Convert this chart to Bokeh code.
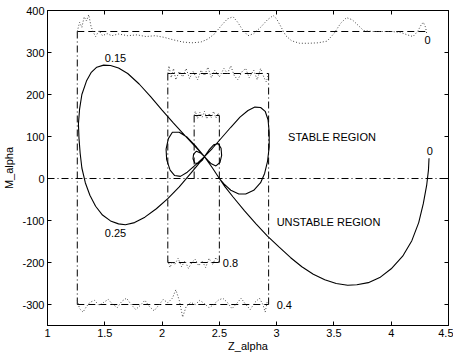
from bokeh.plotting import figure
from bokeh.models import Span, LinearAxis, FixedTicker, Range1d, ColumnDataSource
from bokeh.core.properties import value
from bokeh.embed import file_html
from bokeh.resources import INLINE

# ---------------- data ----------------
x_ticks = [1, 1.5, 2, 2.5, 3, 3.5, 4, 4.5]
x_tick_labels = ["1", "1.5", "2", "2.5", "3", "3.5", "4", "4.5"]
y_ticks = [-300, -200, -100, 0, 100, 200, 300, 400]
y_tick_labels = ["-300", "-200", "-100", "0", "100", "200", "300", "400"]

# stability boundary curve (Z_alpha, M_alpha)
curve_z = [4.33, 4.325, 4.31, 4.28, 4.24, 4.18, 4.10, 4.00, 3.90, 3.80, 3.70, 3.62,
           3.52, 3.42, 3.32, 3.22, 3.12, 3.02, 2.92, 2.82, 2.72, 2.62, 2.55, 2.50,
           2.44, 2.37,
           2.30, 2.20, 2.10, 2.00, 1.90, 1.80, 1.70, 1.62, 1.55, 1.49, 1.43, 1.38,
           1.34, 1.30, 1.28, 1.27, 1.275, 1.285, 1.30, 1.33, 1.37, 1.42, 1.48, 1.55,
           1.62, 1.68, 1.76, 1.85, 1.95, 2.05, 2.15, 2.25, 2.31, 2.37,
           2.44, 2.52, 2.60, 2.68, 2.75, 2.81, 2.86, 2.90, 2.925, 2.935, 2.935,
           2.92, 2.895, 2.86, 2.80, 2.73, 2.67, 2.60, 2.54, 2.50, 2.44, 2.37,
           2.30, 2.22, 2.15, 2.09, 2.055, 2.035, 2.04, 2.07, 2.11, 2.16, 2.22,
           2.29, 2.37,
           2.41, 2.45, 2.49, 2.515, 2.52, 2.505, 2.47, 2.43, 2.40, 2.37,
           2.34, 2.30, 2.275, 2.27, 2.285, 2.32, 2.35, 2.37]
curve_m = [48, 20, -15, -60, -105, -148, -185, -215, -236, -248, -253, -254,
           -250, -241, -228, -210, -188, -163, -137, -108, -77, -44, -20, 0,
           25, 52,
           73, 102, 132, 163, 195, 225, 250, 263, 269, 270, 265, 252,
           232, 200, 165, 130, 95, 60, 25, -10, -40, -66, -87, -101,
           -108, -110, -105, -92, -72, -48, -20, 12, 32, 52,
           72, 97, 122, 146, 162, 170, 169, 160, 140, 110, 75,
           40, 12, -10, -28, -37, -37, -28, -13, 0, 25, 52,
           75, 98, 110, 110, 95, 70, 45, 20, 7, 5, 15,
           32, 52,
           68, 80, 83, 72, 55, 38, 30, 35, 43, 52,
           60, 65, 58, 47, 37, 36, 43, 52]

# region boundaries: dashed horizontals and dash-dot verticals
h_z0 = [1.26, 2.05, 2.28, 2.05, 1.26]
h_z1 = [4.31, 2.93, 2.50, 2.50, 2.93]
h_m = [350, 250, 150, -200, -300]
v_z = [1.26, 2.05, 2.93, 2.50, 2.28]
v_m0 = [-300, -200, -300, -200, 0]
v_m1 = [350, 250, 250, 150, 150]

# dotted traces along the horizontal boundaries
top_wig_z = [1.26, 1.28, 1.30, 1.32, 1.34, 1.36, 1.38, 1.40, 1.42, 1.45, 1.48, 1.52,
             1.56, 1.62, 1.70, 1.78, 1.86, 1.94, 2.02, 2.10, 2.18, 2.26, 2.34, 2.40,
             2.46, 2.52, 2.57, 2.62, 2.66, 2.70, 2.75, 2.80, 2.86, 2.92, 2.97, 3.00,
             3.04, 3.08, 3.13, 3.20, 3.28, 3.36, 3.44, 3.50, 3.56, 3.61, 3.66, 3.71,
             3.76, 3.84, 3.92, 4.00, 4.08, 4.14, 4.19, 4.23, 4.26, 4.28, 4.30, 4.31]
top_wig_m = [350, 372, 360, 385, 375, 390, 362, 348, 338, 352, 340, 345,
             340, 344, 340, 342, 338, 340, 336, 330, 325, 323, 325, 332,
             345, 365, 380, 385, 372, 355, 340, 345, 360, 378, 388, 380,
             360, 340, 328, 322, 322, 323, 327, 345, 370, 383, 378, 365,
             352, 350, 350, 350, 348, 342, 338, 350, 365, 372, 360, 345]
mid_wig_z = [2.05, 2.06, 2.08, 2.10, 2.12, 2.15, 2.18, 2.21, 2.24, 2.27, 2.31, 2.34,
             2.37, 2.40, 2.43, 2.46, 2.50, 2.54, 2.57, 2.60, 2.63, 2.66, 2.70, 2.73,
             2.76, 2.80, 2.83, 2.86, 2.89, 2.91, 2.93]
mid_wig_m = [250, 268, 240, 262, 235, 255, 242, 262, 238, 255, 235, 258,
             245, 265, 240, 258, 242, 262, 250, 268, 245, 235, 255, 262,
             240, 258, 235, 262, 240, 230, 250]
small_wig_z = [2.28, 2.29, 2.31, 2.33, 2.35, 2.37, 2.39, 2.41, 2.43, 2.45, 2.47, 2.49, 2.50]
small_wig_m = [150, 160, 143, 158, 146, 160, 142, 155, 145, 160, 144, 156, 148]
b8_wig_z = [2.05, 2.07, 2.09, 2.11, 2.14, 2.17, 2.20, 2.23, 2.26, 2.29, 2.32, 2.35,
            2.38, 2.41, 2.44, 2.47, 2.50]
b8_wig_m = [-195, -212, -198, -205, -190, -210, -196, -214, -200, -192, -208, -196,
            -212, -190, -205, -188, -200]
b4_wig_z = [1.26, 1.28, 1.31, 1.34, 1.37, 1.41, 1.45, 1.49, 1.53, 1.57, 1.61, 1.65,
            1.69, 1.73, 1.77, 1.81, 1.85, 1.89, 1.93, 1.97, 2.01, 2.05, 2.09, 2.12,
            2.15, 2.18, 2.21, 2.25, 2.29, 2.33, 2.37, 2.41, 2.45, 2.49, 2.53, 2.57,
            2.61, 2.65, 2.69, 2.73, 2.77, 2.81, 2.85, 2.88, 2.90, 2.92]
b4_wig_m = [-290, -310, -318, -305, -295, -290, -302, -295, -288, -300, -307, -292,
            -285, -300, -312, -302, -290, -305, -315, -302, -288, -296, -285, -265,
            -290, -330, -305, -295, -300, -290, -298, -308, -300, -290, -285, -295,
            -310, -298, -285, -300, -312, -295, -285, -300, -318, -290]

# annotations
lab_text = ["0", "0", "0.15", "0.25", "0.4", "0.8", "STABLE REGION", "UNSTABLE REGION"]
lab_z = [4.29, 4.31, 1.50, 1.50, 3.00, 2.53, 3.10, 3.00]
lab_m = [329, 65, 288, -130, -300, -200, 99, -103]

FONT = "Liberation Sans"

# ---------------- figure ----------------
p = figure(width=453, height=354, output_backend="svg", toolbar_location=None,
           x_range=Range1d(1, 4.5), y_range=Range1d(-350, 400),
           min_border_left=46, min_border_right=5, min_border_top=10,
           min_border_bottom=28)
p.grid.visible = False
p.outline_line_color = "black"
p.outline_line_width = 1
p.outline_line_alpha = 1.0
p.background_fill_color = "white"
p.border_fill_color = "white"

def style_axis(ax, ticks, labels, show_labels=True):
    ax.ticker = FixedTicker(ticks=ticks)
    if show_labels:
        ax.major_label_overrides = {t: l for t, l in zip(ticks, labels)}
        ax.major_label_text_font_size = "11px"
    else:
        ax.major_label_overrides = {t: "" for t in ticks}
        ax.major_label_text_font_size = "0px"
    ax.major_tick_in = 4
    ax.major_tick_out = 0
    ax.minor_tick_line_color = None
    ax.major_tick_line_color = "black"
    ax.axis_line_color = "black"
    ax.major_label_text_font = FONT
    ax.major_label_text_color = "black"
    ax.axis_label_text_font = FONT
    ax.axis_label_text_font_size = "11px"
    ax.axis_label_text_font_style = "normal"
    ax.axis_label_text_color = "black"

style_axis(p.xaxis[0], x_ticks, x_tick_labels)
style_axis(p.yaxis[0], y_ticks, y_tick_labels)
p.xaxis[0].axis_label = "Z_alpha"
p.yaxis[0].axis_label = "M_alpha"
p.xaxis[0].major_label_standoff = 3
p.xaxis[0].axis_label_standoff = 0
p.yaxis[0].major_label_standoff = 3
p.yaxis[0].axis_label_standoff = 4

top_ax = LinearAxis()
style_axis(top_ax, x_ticks, x_tick_labels, show_labels=False)
top_ax.major_label_standoff = 0
p.add_layout(top_ax, "above")
right_ax = LinearAxis()
style_axis(right_ax, y_ticks, y_tick_labels, show_labels=False)
right_ax.major_label_standoff = 0
p.add_layout(right_ax, "right")

# zero line
p.add_layout(Span(location=0, dimension="width", line_color="black",
                  line_width=1, line_dash="7 3 1 3"))

# boundaries
p.segment(x0=h_z0, y0=h_m, x1=h_z1, y1=h_m, line_color="black", line_width=1,
          line_dash="7 4")
p.segment(x0=v_z, y0=v_m0, x1=v_z, y1=v_m1, line_color="black", line_width=1,
          line_dash="7 3 1 3")

# dotted traces
for zz, mm in [(top_wig_z, top_wig_m), (mid_wig_z, mid_wig_m),
               (small_wig_z, small_wig_m), (b8_wig_z, b8_wig_m),
               (b4_wig_z, b4_wig_m)]:
    p.line(zz, mm, line_color="#444444", line_width=1, line_dash="1 2")

# main curve
p.line(curve_z, curve_m, line_color="black", line_width=1.1)

# labels
src = ColumnDataSource(dict(z=lab_z, m=lab_m, t=lab_text))
p.text(x="z", y="m", text="t", source=src, text_font=value(FONT),
       text_font_size="11px", text_align="left", text_baseline="middle",
       text_color="black")

open("out.html", "w").write(file_html(p, INLINE))
